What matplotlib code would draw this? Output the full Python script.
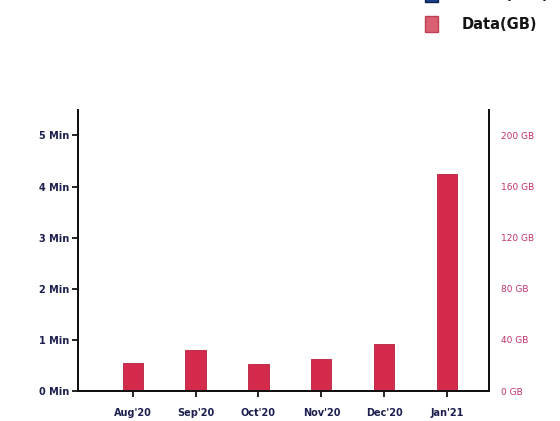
import matplotlib.pyplot as plt
from matplotlib.patches import Rectangle

months = ["Aug'20", "Sep'20", "Oct'20", "Nov'20", "Dec'20", "Jan'21"]
data_gb = [22, 32, 21, 25, 37, 170]
min_ticks = [0, 1, 2, 3, 4, 5]
gb_ticks = [0, 40, 80, 120, 160, 200]

navy = '#1c1f4f'
pink = '#c2306e'
bar_red = '#d42a4c'

fig = plt.figure(figsize=(5.6, 4.21), dpi=100)
ax = fig.add_axes([0.139, 0.071, 0.735, 0.668])
ax2 = ax.twinx()

x = list(range(len(months)))
ax2.bar(x, data_gb, width=0.32, color=bar_red, edgecolor='#b51f3f', linewidth=0.6)

# left axis (minutes)
ax.set_ylim(0, 5.5)
ax.set_yticks(min_ticks)
ax.set_yticklabels([f'{v} Min' for v in min_ticks], fontsize=7, fontweight='bold', color=navy)
ax.tick_params(axis='y', length=4, width=1.2, pad=2)

# right axis (GB), same scale: 40 GB = 1 Min
ax2.set_ylim(0, 220)
ax2.set_yticks(gb_ticks)
ax2.set_yticklabels([f'{v} GB' for v in gb_ticks], fontsize=6.5, color=pink)
ax2.tick_params(axis='y', length=0, pad=8)

ax.set_xlim(-0.87, 5.67)
ax.set_xticks(x)
ax.set_xticklabels(months, fontsize=7, fontweight='bold', color=navy)
ax.tick_params(axis='x', length=4, width=1.2, pad=8)

for a in (ax, ax2):
    a.spines['top'].set_visible(False)
    for s in ('left', 'right', 'bottom'):
        a.spines[s].set_linewidth(1.4)
        a.spines[s].set_color('#111111')

# legend, top entry cut by the page edge
fig.patches.append(Rectangle((0.759, 0.925), 0.024, 0.036, transform=fig.transFigure,
                             facecolor='#d9606e', edgecolor='#b84050'))
fig.patches.append(Rectangle((0.759, 0.995), 0.024, 0.036, transform=fig.transFigure,
                             facecolor='#1c3f8f', edgecolor='#102050'))
fig.text(0.825, 0.942, 'Data(GB)', fontsize=10.5, fontweight='bold', color='#151515', va='center')
fig.text(0.825, 1.012, 'Voice(Min)', fontsize=10.5, fontweight='bold', color='#151515', va='center')

fig.savefig('out.png', dpi=100)
